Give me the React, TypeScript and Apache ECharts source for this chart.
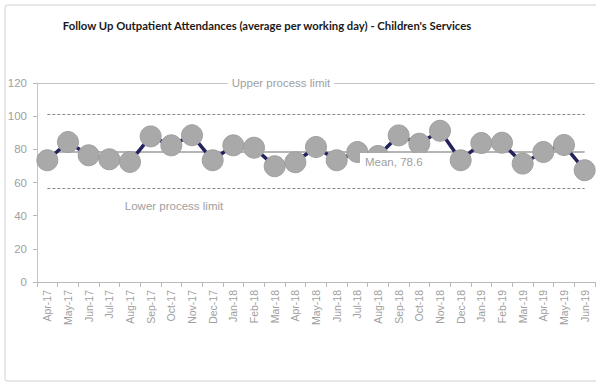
import React, { useEffect, useRef } from "react";
import * as echarts from "echarts";

const months = [
  "Apr-17", "May-17", "Jun-17", "Jul-17", "Aug-17", "Sep-17", "Oct-17", "Nov-17", "Dec-17",
  "Jan-18", "Feb-18", "Mar-18", "Apr-18", "May-18", "Jun-18", "Jul-18", "Aug-18", "Sep-18",
  "Oct-18", "Nov-18", "Dec-18", "Jan-19", "Feb-19", "Mar-19", "Apr-19", "May-19", "Jun-19",
];

// Average follow-up attendances per working day
const attendances = [
  73.4, 84.4, 76.4, 74.0, 72.4, 87.8, 82.4, 88.5, 73.4,
  82.4, 81.0, 69.8, 72.2, 81.4, 73.4, 78.4, 76.0, 88.4,
  83.4, 91.2, 73.4, 83.8, 84.0, 71.4, 78.4, 82.6, 67.4,
];

const meanValue = 78.6;
const upperLimit = 100.9;
const lowerLimit = 56.4;
const yTicks = { min: 0, max: 120, interval: 20 };

const GREY_TEXT = "#a0a0a0";
const FONT = "'Liberation Sans', Arial, sans-serif";

export default function App() {
  const ref = useRef<HTMLDivElement>(null);

  useEffect(() => {
    if (!ref.current) return;
    const chart = echarts.init(ref.current, undefined, { renderer: "svg" });
    const last = months.length - 1;

    chart.setOption({
      animation: false,
      backgroundColor: "#ffffff",
      textStyle: { fontFamily: FONT },
      title: {
        text: "Follow Up Outpatient Attendances (average per working day) - Children's Services",
        left: 262,
        top: 15,
        textAlign: "center",
        textStyle: {
          fontFamily: "Lato, 'Open Sans', Arial, sans-serif",
          fontWeight: "bold",
          fontSize: 11.3,
          color: "#1a1a1a",
        },
      },
      grid: { left: 37, right: 1, top: 83, bottom: 101, containLabel: false },
      xAxis: {
        type: "category",
        data: months,
        boundaryGap: true,
        axisLine: { lineStyle: { color: "#b8b8b8", width: 1 } },
        axisTick: { show: true, length: 5, alignWithLabel: false, lineStyle: { color: "#b8b8b8" } },
        axisLabel: {
          rotate: 90,
          interval: 0,
          margin: 8,
          color: GREY_TEXT,
          fontSize: 10.5,
          fontFamily: FONT,
        },
        splitLine: { show: false },
      },
      yAxis: {
        type: "value",
        min: yTicks.min,
        max: yTicks.max,
        interval: yTicks.interval,
        axisLine: { show: true, lineStyle: { color: "#c4c4c4", width: 1 } },
        axisTick: { show: true, length: 4, lineStyle: { color: "#b8b8b8" } },
        axisLabel: { color: GREY_TEXT, fontSize: 11.5, margin: 10, fontFamily: FONT },
        splitLine: { show: false },
      },
      series: [
        {
          type: "line",
          data: attendances,
          symbol: "circle",
          symbolSize: 21,
          lineStyle: { color: "#23235e", width: 3.5 },
          itemStyle: { color: "#a9a9a9", borderColor: "#a0a0a0", borderWidth: 1 },
          z: 3,
          markLine: {
            silent: true,
            symbol: "none",
            label: { show: false },
            z: 1,
            data: [
              [
                { coord: [0, upperLimit], lineStyle: { color: "#8a8a8a", type: [3, 2], width: 1 } },
                { coord: [last, upperLimit] },
              ],
              [
                { coord: [0, lowerLimit], lineStyle: { color: "#8a8a8a", type: [3, 2], width: 1 } },
                { coord: [last, lowerLimit] },
              ],
              [
                { coord: [0, meanValue], lineStyle: { color: "#9c9c9c", type: "solid", width: 1.5 } },
                { coord: [last, meanValue] },
              ],
              { yAxis: yTicks.max, lineStyle: { color: "#c4c4c4", type: "solid", width: 1 } },
            ],
          },
        },
      ],
      graphic: [
        {
          type: "rect",
          shape: { x: 5, y: 5, width: 600, height: 376, r: 2 },
          style: { fill: "none", stroke: "#d0d0d0", lineWidth: 1 },
          z: 0,
          silent: true,
        },
        {
          type: "text",
          x: 281,
          y: 83,
          z: 100,
          style: {
            text: "Upper process limit",
            fill: GREY_TEXT,
            font: `11.5px ${FONT}`,
            align: "center",
            verticalAlign: "middle",
            backgroundColor: "#ffffff",
            padding: [1, 4],
          },
        },
        {
          type: "text",
          x: 174,
          y: 206,
          z: 100,
          style: {
            text: "Lower process limit",
            fill: GREY_TEXT,
            font: `11.5px ${FONT}`,
            align: "center",
            verticalAlign: "middle",
          },
        },
        {
          type: "text",
          x: 360,
          y: 153,
          z: 100,
          style: {
            text: "Mean, 78.6",
            fill: GREY_TEXT,
            font: `11.5px ${FONT}`,
            align: "left",
            verticalAlign: "top",
            backgroundColor: "#ffffff",
            padding: [3, 6, 5, 5],
          },
        },
      ],
    });

    return () => chart.dispose();
  }, []);

  return (
    <div
      ref={ref}
      style={{ position: "fixed", left: 0, top: 0, width: 596, height: 383, background: "#fff" }}
    />
  );
}
